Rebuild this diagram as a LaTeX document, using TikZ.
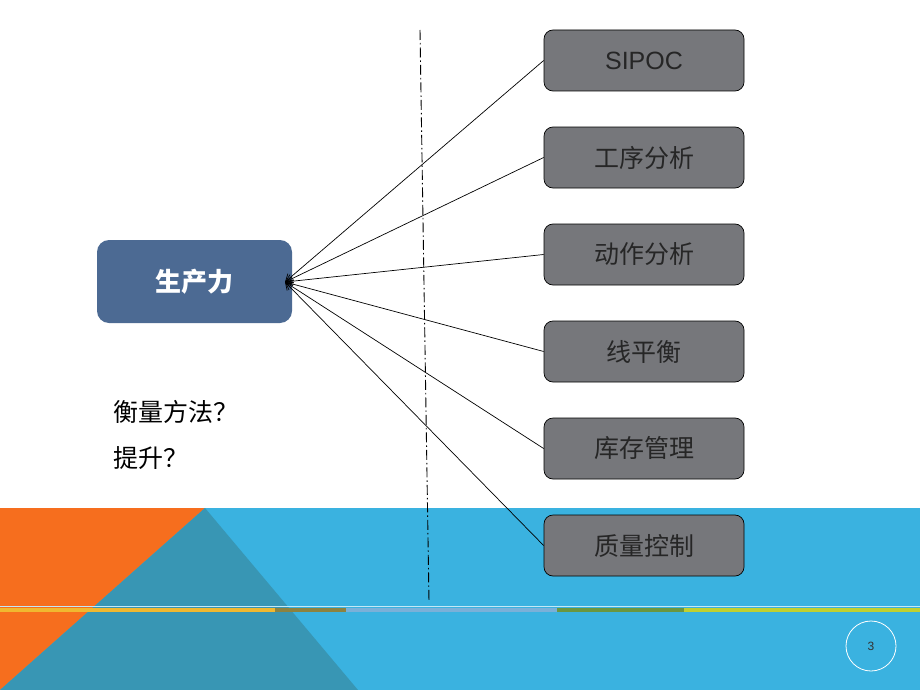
\documentclass[tikz,border=0pt]{standalone}
\usepackage{fontspec}
\setmainfont{Liberation Sans}
\newfontfamily\cjk{Noto Sans CJK SC}
\usetikzlibrary{positioning,arrows.meta}

\definecolor{boxgray}{RGB}{118,119,123}
\definecolor{prodblue}{RGB}{76,106,147}
\definecolor{seablue}{RGB}{58,178,224}
\definecolor{sunorange}{RGB}{246,110,30}
\definecolor{deepteal}{RGB}{56,150,180}

\begin{document}
\begin{tikzpicture}
[x=1pt,y=-1pt,node distance=35.3pt,>={Straight Barb[length=7pt,width=9pt]},line width=0.7pt]
  \tikzstyle{method}=[draw=black,fill=boxgray,rounded corners=9pt,minimum width=200pt,minimum height=61pt,text=black!85,font=\cjk\fontsize{25}{28}\selectfont]
  \tikzstyle{stripe}=[line width=4.5pt]

  \useasboundingbox (0,0) rectangle (920,690);

  % bottom band
  \fill[seablue] (0,508) rectangle (920,690);
  \fill[sunorange] (0,508) -- (205,508) -- (0,690) -- cycle;
  \fill[deepteal] (205,508) -- (358,690) -- (0,690) -- cycle;
  \draw[white!70!seablue,line width=1pt] (0,606.5) -- (920,606.5);
  \draw[stripe,color={rgb,255:red,240;green,184;blue,48}] (0,610) -- (275,610);
  \draw[stripe,color={rgb,255:red,140;green,130;blue,64}] (275,610) -- (346,610);
  \draw[stripe,color={rgb,255:red,122;green,176;blue,216}] (346,610) -- (557,610);
  \draw[stripe,color={rgb,255:red,106;green,150;blue,64}] (557,610) -- (684,610);
  \draw[stripe,color={rgb,255:red,192;green,208;blue,48}] (684,610) -- (920,610);

  \draw[dash pattern=on 10pt off 3pt on 1.5pt off 3pt,line width=0.9pt] (420,30) -- (429,602);

  \node[fill=prodblue,rounded corners=12pt,minimum width=195pt,minimum height=83pt,text=white,font=\cjk\bfseries\fontsize{26}{30}\selectfont] (output) at (194.5,281.5) {生产力};
  \coordinate (hub) at (285,282);

  \node[method] (sipoc) at (644,60.5) {\rmfamily SIPOC};
  \node[method]         (process) [below=of sipoc]   {工序分析};
  \node[method]         (motion)  [below=of process] {动作分析};
  \node[method]         (balance) [below=of motion]  {线平衡};
  \node[method]         (stock)   [below=of balance] {库存管理};
  \node[method]         (quality) [below=of stock]   {质量控制};

  \path[->] (sipoc.west)   edge (hub)
            (process.west) edge (hub)
            (motion.west)  edge (hub)
            (balance.west) edge (hub)
            (stock.west)   edge (hub)
            (quality.west) edge (hub);

  \node[anchor=west,font=\cjk\fontsize{25}{28}\selectfont] (measure) at (110,412) {衡量方法？};
  \node[anchor=west,font=\cjk\fontsize{25}{28}\selectfont] (raise)   at (110,458) {提升？};

  \node[draw=white,circle,minimum size=50pt,line width=0.8pt,text=black!80,font=\fontsize{12}{14}\selectfont] (page) at (871,646) {3};
\end{tikzpicture}
\end{document}
